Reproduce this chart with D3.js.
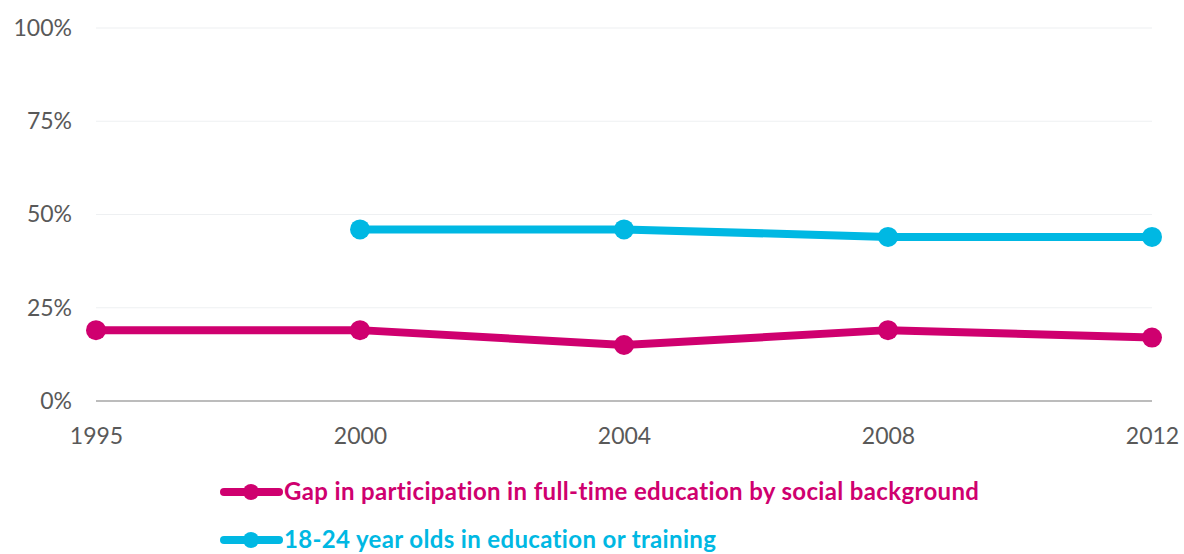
<!DOCTYPE html>
<html><head><meta charset="utf-8">
<script src="https://cdn.jsdelivr.net/npm/d3@7"></script>
<style>body{margin:0;background:#fff}svg{display:block}</style>
</head><body>
<svg id="c" width="1184" height="554"></svg>
<script>
const years = ["1995","2000","2004","2008","2012"];
const gapValues = [19,19,15,19,17];
const youthValues = [null,46,46,44,44];
const yTicks = [0,25,50,75,100];
const seriesNames = ["Gap in participation in full-time education by social background","18-24 year olds in education or training"];
const colors = ["#CF006F","#00B8E3"];

const svg = d3.select("#c");
const x = d3.scalePoint().domain(years).range([96,1152]);
const y = d3.scaleLinear().domain([0,100]).range([401,28]);
const font = "Lato, 'Open Sans', sans-serif";

// gridlines
svg.append("g").selectAll("line").data(yTicks.filter(d=>d>0)).join("line")
  .attr("x1",96).attr("x2",1152).attr("y1",d=>y(d)).attr("y2",d=>y(d))
  .attr("stroke","#EEF0F2").attr("stroke-width",1.2);

// y axis labels
const yAxis = d3.axisLeft(y).tickValues(yTicks).tickFormat(d=>d+"%").tickSize(0).tickPadding(24);
const ga = svg.append("g").attr("transform","translate(96,0)").call(yAxis);
ga.select(".domain").remove();
ga.selectAll("text").attr("font-family",font).attr("font-size",23).attr("fill","#595959");

// x axis
const xAxis = d3.axisBottom(x).tickSize(0).tickPadding(26);
const gx = svg.append("g").attr("transform","translate(0,401)").call(xAxis);
gx.select(".domain").attr("stroke","#A6A6A6").attr("stroke-width",1.5).attr("d","M96,0H1152");
gx.selectAll("text").attr("font-family",font).attr("font-size",23).attr("fill","#595959")
  .attr("dy","0").attr("y",26+17);

const series = [gapValues, youthValues];
series.forEach((vals,i)=>{
  const pts = years.map((yr,j)=>({yr,v:vals[j]})).filter(d=>d.v!==null);
  svg.append("path").datum(pts)
    .attr("d",d3.line().x(d=>x(d.yr)).y(d=>y(d.v)))
    .attr("fill","none").attr("stroke",colors[i]).attr("stroke-width",8);
  svg.append("g").selectAll("circle").data(pts).join("circle")
    .attr("cx",d=>x(d.yr)).attr("cy",d=>y(d.v)).attr("r",10).attr("fill",colors[i]);
});

// legend
const lg = svg.append("g");
seriesNames.forEach((name,i)=>{
  const cy = 492 + i*48;
  lg.append("line").attr("x1",224).attr("x2",279).attr("y1",cy).attr("y2",cy)
    .attr("stroke",colors[i]).attr("stroke-width",8).attr("stroke-linecap","round");
  lg.append("circle").attr("cx",251).attr("cy",cy).attr("r",8).attr("fill",colors[i]);
  lg.append("text").attr("x",284).attr("y",cy).attr("dy","0.35em")
    .attr("font-family",font).attr("font-weight","bold").attr("font-size",24)
    .attr("letter-spacing","0.35px")
    .attr("fill",colors[i]).text(name);
});
</script>
</body></html>
